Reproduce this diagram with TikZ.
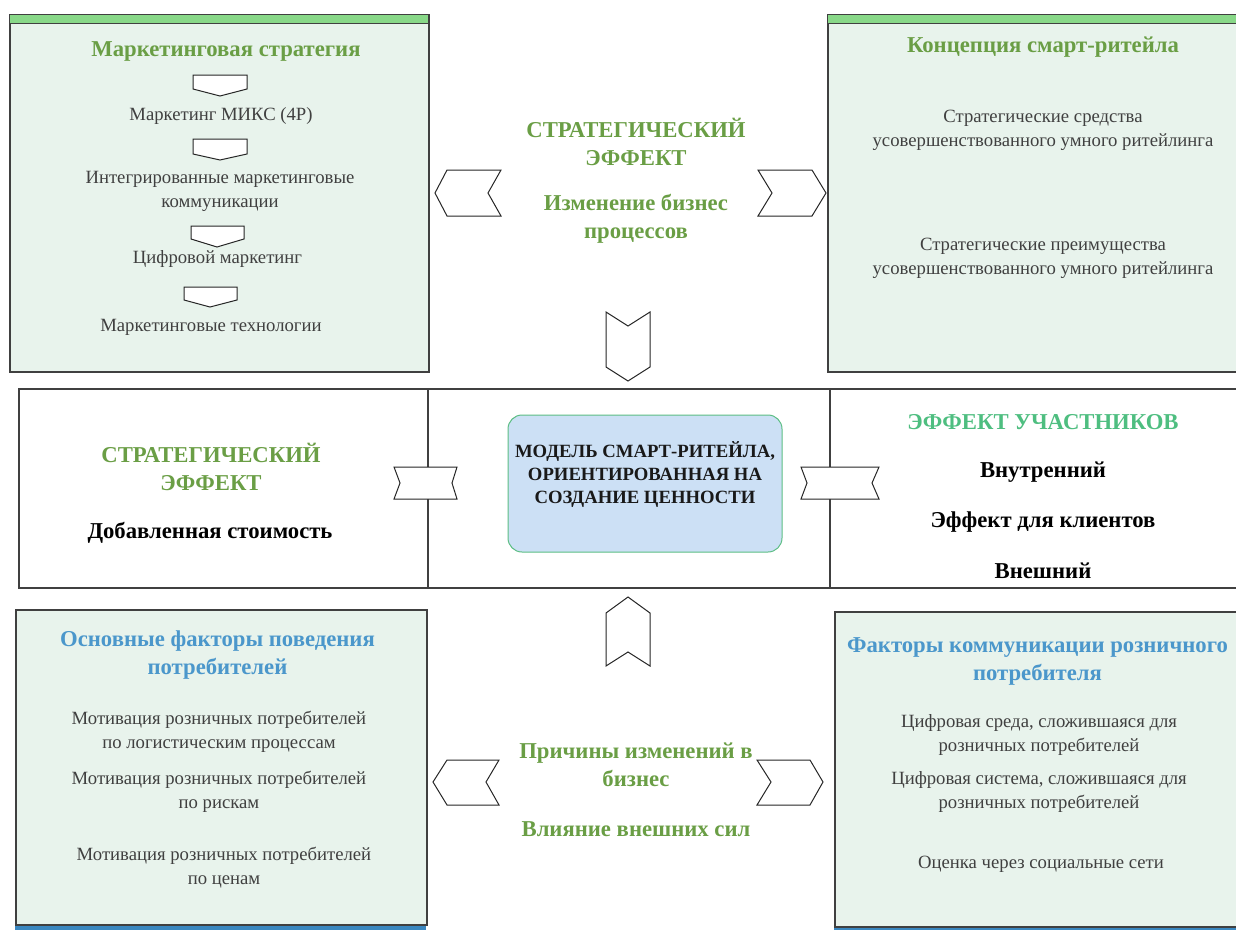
\documentclass[tikz,border=0pt]{standalone}
\usepackage{fontspec}
\setmainfont{Liberation Serif}
\usetikzlibrary{positioning}

\definecolor{leafgreen}{RGB}{106,158,69}
\definecolor{mintgreen}{RGB}{78,190,128}
\definecolor{skyblue}{RGB}{75,151,203}
\definecolor{panelfill}{RGB}{232,243,236}
\definecolor{barfill}{RGB}{136,216,136}
\definecolor{bluebar}{RGB}{58,135,192}
\definecolor{modelfill}{RGB}{204,224,245}
\definecolor{modelline}{RGB}{92,190,132}
\definecolor{edgegray}{RGB}{64,64,64}
\definecolor{bodygray}{RGB}{64,64,64}

\newcommand{\titlesize}{\fontsize{22.7pt}{28pt}\selectfont\bfseries}
\newcommand{\bodysize}{\fontsize{18.7pt}{24pt}\selectfont}

\begin{document}
\begin{tikzpicture}[x=1pt,y=-1pt,
  panel/.style={draw=edgegray, line width=1.2pt, fill=panelfill, inner sep=0pt},
  band/.style={draw=edgegray, line width=1.2pt, fill=white},
  chev/.style={draw=black!85, line width=1pt, fill=white, line join=miter},
  greentitle/.style={font=\titlesize, text=leafgreen, align=center},
  bluetitle/.style={font=\titlesize, text=skyblue, align=center},
  item/.style={font=\bodysize, text=bodygray, align=center},
  bolditem/.style={font=\titlesize, text=black, align=center}]
\useasboundingbox (0,0) rectangle (1236,929);

% panels
\node[panel, minimum width=419pt, minimum height=357pt] (strategy) at (219.5,193.5) {};
\draw[draw=edgegray, line width=1.2pt, fill=barfill] (strategy.north west) rectangle ++(419,9);
\node[panel, minimum width=422pt, minimum height=357pt] (concept) at (1039,193.5) {};
\draw[draw=edgegray, line width=1.2pt, fill=barfill] (concept.north west) rectangle ++(422,9);
\node[panel, minimum width=411pt, minimum height=315pt] (behaviour) at (221.5,767.5) {};
\fill[bluebar] (behaviour.south west) rectangle ++(411,6);
\node[panel, minimum width=415pt, minimum height=315pt] (communication) at (1042.5,769.5) {};
\fill[bluebar] (communication.south west) rectangle ++(415,6);

% middle band
\draw[band] (19,389) rectangle (1250,588);
\draw[edgegray, line width=1.2pt] (428,389) -- (428,588) (830,389) -- (830,588);
\node[draw=modelline, line width=1pt, fill=modelfill, rounded corners=14pt,
  minimum width=274pt, minimum height=137pt] (model) at (645,483.5) {};

% banners in the band
\draw[chev] (394,467) -- (457,467) -- (452,483) -- (457,499) -- (394,499) -- (400,483) -- cycle;
\draw[chev] (801,467) -- (879,467) -- (872,483) -- (879,499) -- (801,499) -- (807,483) -- cycle;

% chevrons
\draw[chev] (435,193) -- (447,170) -- (501,170) -- (488,193) -- (501,216) -- (447,216) -- cycle;
\draw[chev] (758,170) -- (812,170) -- (826,193) -- (812,216) -- (758,216) -- (772,193) -- cycle;
\draw[chev] (606,312) -- (628,326) -- (650,312) -- (650,367) -- (628,381) -- (606,367) -- cycle;
\draw[chev] (628,597) -- (650,613) -- (650,666) -- (628,652) -- (606,666) -- (606,613) -- cycle;
\draw[chev] (433,782) -- (447,760) -- (499,760) -- (486,782) -- (499,805) -- (447,805) -- cycle;
\draw[chev] (757,760) -- (810,760) -- (823,782) -- (810,805) -- (757,805) -- (771,782) -- cycle;

% small arrows of the strategy panel
\draw[chev] (193,75) -- (247,75) -- (247,89) -- (220,96) -- (193,89) -- cycle;
\draw[chev] (193,139) -- (247,139) -- (247,154) -- (220,160) -- (193,154) -- cycle;
\draw[chev] (191,226) -- (244,226) -- (244,239) -- (217,247) -- (191,239) -- cycle;
\draw[chev] (184,287) -- (237,287) -- (237,300) -- (210,307) -- (184,300) -- cycle;

% texts
\node[greentitle] (strategytitle) at (226,51) {Маркетинговая стратегия};
\node[item] (mix) at (221,116) {Маркетинг МИКС (4P)};
\node[item] (imc) at (220,191) {Интегрированные маркетинговые\\коммуникации};
\node[item] (digital) at (217.5,259) {Цифровой маркетинг};
\node[item] (tech) at (211,327) {Маркетинговые технологии};

\node[greentitle] (concepttitle) at (1043,47) {Концепция смарт-ритейла};
\node[item] (means) at (1043,130) {Стратегические средства\\усовершенствованного умного ритейлинга};
\node[item] (advantages) at (1043,258) {Стратегические преимущества\\усовершенствованного умного ритейлинга};

\node[greentitle] (topeffect) at (636,142) {СТРАТЕГИЧЕСКИЙ\\ЭФФЕКТ};
\node[greentitle] (change) at (636,219) {Изменение бизнес\\процессов};

\node[greentitle] (lefteffect) at (211,467) {СТРАТЕГИЧЕСКИЙ\\ЭФФЕКТ};
\node[bolditem] (addedvalue) at (210,533) {Добавленная стоимость};

\node[font=\fontsize{18.7pt}{23pt}\selectfont\bfseries, text=black!90, align=center] (modeltext)
  at (645,475) {МОДЕЛЬ СМАРТ-РИТЕЙЛА,\\ОРИЕНТИРОВАННАЯ НА\\СОЗДАНИЕ ЦЕННОСТИ};

\node[greentitle, text=mintgreen] (participants) at (1043,422) {ЭФФЕКТ УЧАСТНИКОВ};
\node[bolditem] (inner) at (1043,472) {Внутренний};
\node[bolditem] (customers) at (1043,522) {Эффект для клиентов};
\node[bolditem] (outer) at (1043,571) {Внешний};

\node[bluetitle] (behaviourtitle) at (217.5,655) {Основные факторы поведения\\потребителей};
\node[item] (logistics) at (219,732) {Мотивация розничных потребителей\\по логистическим процессам};
\node[item] (risks) at (219,792) {Мотивация розничных потребителей\\по рискам};
\node[item] (prices) at (224,868) {Мотивация розничных потребителей\\по ценам};

\node[greentitle] (causes) at (636,765) {Причины изменений в\\бизнес};
\node[greentitle] (forces) at (636,829) {Влияние внешних сил};

\node[bluetitle] (commtitle) at (1037.5,661.5) {Факторы коммуникации розничного\\потребителя};
\node[item] (environment) at (1039,735) {Цифровая среда, сложившаяся для\\розничных потребителей};
\node[item] (system) at (1039,792) {Цифровая система, сложившаяся для\\розничных потребителей};
\node[item] (social) at (1041,864) {Оценка через социальные сети};
\end{tikzpicture}
\end{document}
